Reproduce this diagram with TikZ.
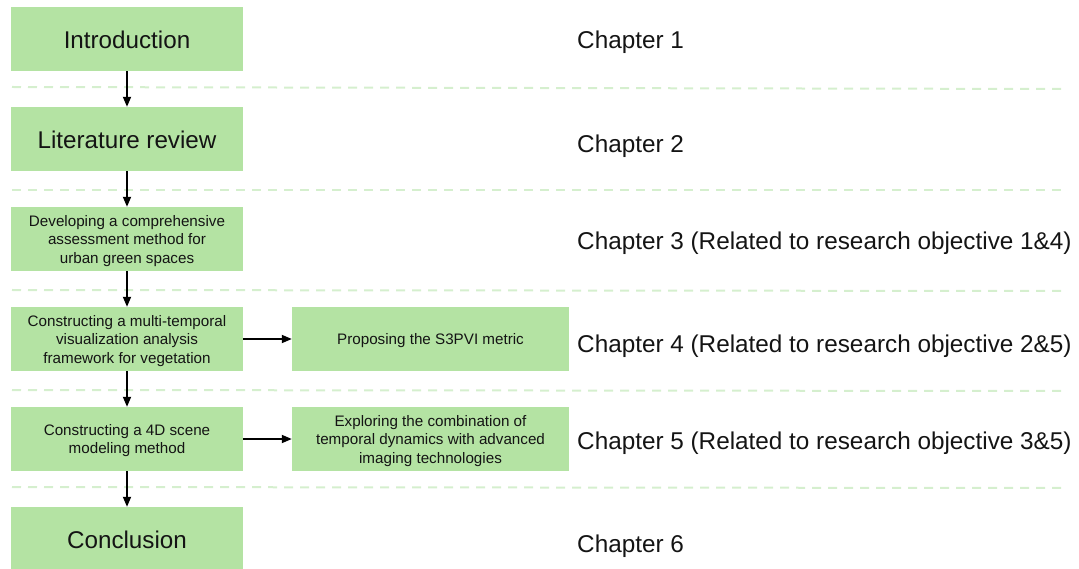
\documentclass[tikz,border=0pt]{standalone}
\usepackage{fontspec}
\setmainfont{Liberation Sans}
\usetikzlibrary{arrows.meta}
\definecolor{boxgreen}{RGB}{180,227,163}
\definecolor{dashgreen}{RGB}{213,239,206}
\definecolor{txt}{RGB}{20,20,20}
\begin{document}
\begin{tikzpicture}[x=1pt,y=-1pt,
  gbox/.style={fill=boxgreen,draw=none,minimum width=232pt,minimum height=64pt,inner sep=0pt},
  wbox/.style={gbox,minimum width=277pt},
  big/.style={inner sep=0pt,text=txt,align=center,font=\fontsize{24.2}{28}\selectfont},
  small/.style={inner sep=0pt,text=txt,align=center,font=\fontsize{15.2}{18.7}\selectfont},
  chap/.style={anchor=west,inner sep=0pt,text=txt,font=\fontsize{24.3}{28}\selectfont},
  sep/.style={draw=dashgreen,line width=2pt,dash pattern=on 9pt off 7pt},
  arr/.style={draw=black,line width=1.7pt,-{Triangle[length=10pt,width=8pt]}}]
\useasboundingbox (0,0) rectangle (1079,569);
% separators
\draw[sep] (12,87) -- (1063,89);
\draw[sep] (12,190) -- (1063,190);
\draw[sep] (12,290) -- (1063,291);
\draw[sep] (12,390) -- (1063,391);
\draw[sep] (12,487) -- (1063,488);
% boxes
\node[gbox] (intro) at (127,39) {};
\node[gbox] (lit) at (127,139) {};
\node[gbox] (dev) at (127,239) {};
\node[gbox] (mtv) at (127,339) {};
\node[gbox] (fourd) at (127,439) {};
\node[gbox] (conc) at (127,539) {};
\node[wbox] (s3) at (430.5,339) {};
\node[wbox] (expl) at (430.5,439) {};
% box texts (canvas yshift: negative = down)
\node[big] (introt) at ([yshift=-1pt]intro.center) {Introduction};
\node[big] (litt) at ([yshift=-1pt]lit.center) {Literature review};
\node[big] (conct) at ([yshift=-1pt]conc.center) {Conclusion};
\node[small] (devt) at ([yshift=-2pt]dev.center) {Developing a comprehensive\\assessment method for\\urban green spaces};
\node[small] (mtvt) at ([yshift=-2pt]mtv.center) {Constructing a multi-temporal\\visualization analysis\\framework for vegetation};
\node[small] (fourdt) at ([yshift=-1.5pt]fourd.center) {Constructing a 4D scene\\modeling method};
\node[small] (s3t) at ([yshift=-2pt]s3.center) {Proposing the S3PVI metric};
\node[small] (explt) at ([yshift=-2pt]expl.center) {Exploring the combination of\\temporal dynamics with advanced\\imaging technologies};
% arrows
\draw[arr] (intro) -- (lit);
\draw[arr] (lit) -- (dev);
\draw[arr] (dev) -- (mtv);
\draw[arr] (mtv) -- (fourd);
\draw[arr] (fourd) -- (conc);
\draw[arr] (mtv) -- (s3);
\draw[arr] (fourd) -- (expl);
% chapter labels
\node[chap] (c1) at (577,42) {Chapter 1};
\node[chap] (c2) at (577,146) {Chapter 2};
\node[chap] (c3) at (577,243) {Chapter 3 (Related to research objective 1\&4)};
\node[chap] (c4) at (577,346) {Chapter 4 (Related to research objective 2\&5)};
\node[chap] (c5) at (577,443) {Chapter 5 (Related to research objective 3\&5)};
\node[chap] (c6) at (577,546) {Chapter 6};
\end{tikzpicture}
\end{document}
